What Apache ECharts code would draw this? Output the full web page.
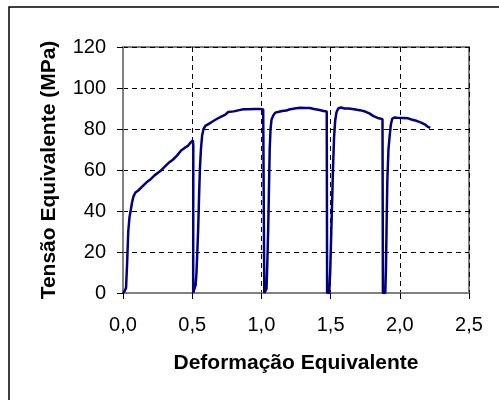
<!DOCTYPE html>
<html>
<head>
<meta charset="utf-8">
<script src="https://cdn.jsdelivr.net/npm/echarts@6/dist/echarts.min.js"></script>
<style>
  html, body { margin: 0; padding: 0; background: #fff; }
  #main { width: 499px; height: 400px; }
</style>
</head>
<body>
<div id="main"></div>
<script>
// curva tensão x deformação
const strain = [
  0, 0.012, 0.022, 0.03, 0.038, 0.047, 0.055, 0.065, 0.075, 0.09, 0.11, 0.14, 0.17, 0.2, 0.23, 0.27, 0.3, 0.33, 0.36, 0.39, 0.42, 0.45, 0.47, 0.49, 0.505, 0.508, 0.507, 0.515,
  0.525, 0.531, 0.537, 0.543, 0.55, 0.556, 0.563, 0.572, 0.582, 0.595, 0.62, 0.65, 0.68, 0.71, 0.74, 0.76, 0.8, 0.84, 0.87, 0.9, 0.95, 0.99, 1.013, 1.02, 1.021, 1.03,
  1.037, 1.043, 1.049, 1.055, 1.06, 1.066, 1.073, 1.085, 1.1, 1.12, 1.15, 1.18, 1.2, 1.24, 1.28, 1.32, 1.35, 1.38, 1.42, 1.45, 1.472, 1.475, 1.49,
  1.497, 1.503, 1.51, 1.517, 1.525, 1.533, 1.542, 1.555, 1.575, 1.6, 1.63, 1.67, 1.71, 1.75, 1.78, 1.81, 1.84, 1.875, 1.878, 1.895,
  1.9, 1.905, 1.91, 1.918, 1.926, 1.935, 1.945, 1.96, 1.98, 2.02, 2.06, 2.09, 2.12, 2.15, 2.18, 2.2, 2.22
];
const stress = [
  0, 1, 2.5, 15, 30, 37, 40, 44, 47, 49, 50, 52, 54, 55.5, 57.5, 59.5, 61.5, 63.5, 65, 67, 69.5, 71, 71.8, 73.5, 74.5, 72, 0, 0,
  4, 10, 20, 31, 48, 61, 70, 77, 80, 81.5, 82.5, 83.8, 85, 86, 87, 88.3, 88.6, 89.2, 89.6, 89.6, 89.8, 89.8, 89.5, 88.8, 0, 0,
  2, 15, 31, 52, 70, 80, 84.5, 86.5, 88, 88.3, 88.8, 89, 89.5, 90, 90.4, 90.3, 90.2, 89.8, 89.3, 88.8, 88.5, 0, 0,
  10, 25, 42, 60, 76, 84, 88, 90, 90.5, 90, 90, 89.6, 89.2, 88.5, 87.6, 86.3, 85.4, 84.8, 0, 0,
  12, 35, 55, 70, 76, 82, 85, 85.6, 85.5, 85.4, 85.2, 84.5, 84, 83.2, 82.3, 81.2, 80.6
];
const xTicks = ['0,0', '0,5', '1,0', '1,5', '2,0', '2,5'];

const fonte = 'Liberation Sans, Arial, sans-serif';
let chart = echarts.init(document.getElementById('main'));

let option = {
  animation: false,
  textStyle: { fontFamily: fonte },
  graphic: [
    { // moldura externa
      type: 'rect',
      shape: { x: 9, y: 7, width: 600, height: 600 },
      style: { fill: 'none', stroke: '#000', lineWidth: 1.5 },
      silent: true
    }
  ],
  grid: {
    left: 123, top: 47, right: 30, bottom: 107,
    show: true, borderColor: '#808080', borderWidth: 2, backgroundColor: 'transparent'
  },
  xAxis: {
    type: 'value',
    min: 0, max: 2.5, interval: 0.5,
    name: 'Deformação Equivalente',
    nameLocation: 'middle',
    nameGap: 60,
    nameTextStyle: { fontSize: 21, fontWeight: 'bold', color: '#000', fontFamily: fonte },
    axisLine: { show: true, lineStyle: { color: '#808080', width: 2 } },
    axisTick: { show: true, length: 6, lineStyle: { color: '#000' } },
    axisLabel: {
      fontSize: 20, color: '#000', margin: 22, fontFamily: fonte,
      formatter: v => xTicks[Math.round(v / 0.5)]
    },
    splitLine: { show: true, lineStyle: { color: '#000', type: [5, 4], width: 1 } }
  },
  yAxis: {
    type: 'value',
    min: 0, max: 120, interval: 20,
    name: 'Tensão Equivalente (MPa)',
    nameLocation: 'middle',
    nameGap: 63,
    nameTextStyle: { fontSize: 21, fontWeight: 'bold', color: '#000', fontFamily: fonte },
    axisLine: { show: true, lineStyle: { color: '#808080', width: 2 } },
    axisTick: { show: true, length: 6, lineStyle: { color: '#000' } },
    axisLabel: { fontSize: 20, color: '#000', margin: 17, fontFamily: fonte },
    splitLine: { show: true, lineStyle: { color: '#000', type: [5, 4], width: 1 } }
  },
  series: [
    {
      type: 'line',
      data: strain.map((x, i) => [x, stress[i]]),
      showSymbol: false,
      lineStyle: { color: '#000080', width: 2.5 },
      z: 5
    }
  ]
};

chart.setOption(option);
</script>
</body>
</html>
